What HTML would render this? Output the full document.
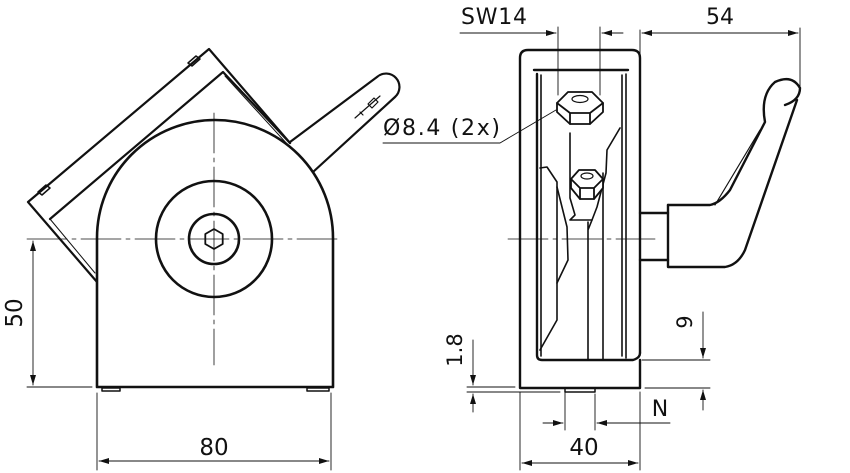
<!DOCTYPE html>
<html><head><style>
html,body{margin:0;padding:0;background:#fff;}
svg{display:block;}
text{font-family:"DejaVu Sans","Liberation Sans",sans-serif;fill:#111;}
</style></head><body>
<svg width="850" height="473" viewBox="0 0 850 473" xmlns="http://www.w3.org/2000/svg">
<defs>
<marker id="a" viewBox="0 0 10 6" refX="10" refY="3" markerWidth="11" markerHeight="6" orient="auto-start-reverse" markerUnits="userSpaceOnUse"><path d="M0,0 L10,3 L0,6 z" fill="#111"/></marker>
</defs>
<g fill="none" stroke="#111" stroke-linecap="round" stroke-linejoin="round">
<!-- LEFT VIEW -->
<g stroke-width="2.2">
<path d="M290,143 L209,49 L28,202 L97,282"/>
<path d="M50,219 L223,72 L290,143"/>
<path d="M38,192 l8,-7 l4,3 l-8,7 z M188,63 l8,-7 l4,3 l-8,7 z" stroke-width="1.5"/>
<path d="M290,142 L377,77 A12,12 0 0 1 395,97 L313,172"/>
</g>
<path d="M50,219 L95,273 M225,76 L288,145" stroke-width="1"/>
<path d="M355,118 l25,-22 M360,112 l3,3 M368,104 l6,-6 l4,4 l-6,6 z" stroke-width="1.2"/>
<path d="M97,387 L97,238 A118,118 0 0 1 333,238 L333,387 Z" fill="#fff" stroke-width="2.6"/>
<circle cx="214" cy="239" r="58" stroke-width="2.6"/>
<circle cx="214" cy="239" r="25" stroke-width="2.6"/>
<path d="M214,229 l8.7,5 v10 l-8.7,5 l-8.7,-5 v-10 z" stroke-width="1.8"/>
<path d="M102,388 h18 v3 h-18 z M307,388 h22 v3 h-22 z" stroke-width="1.5"/>
<path d="M27,239 H340 M214,113 V365" stroke-width="0.8" stroke-dasharray="40,5,4,5"/>
<g stroke-width="0.9">
<path d="M27,387 H92"/>
<path d="M33,241 V385" marker-start="url(#a)" marker-end="url(#a)"/>
<path d="M97,393 V470 M331,393 V470"/>
<path d="M99,461 H329" marker-start="url(#a)" marker-end="url(#a)"/>
</g>

<!-- RIGHT VIEW -->
<g stroke-width="2.4">
<path d="M640,353 V58 Q640,50 632,50 H528 Q520,50 520,58 V388 H640 V360"/>
<path d="M537,74 V355 Q537,360 542,360 H633 Q640,358 640,353"/>
<path d="M534,70 H628"/>
</g>
<g stroke-width="1.6">
<path d="M541,75 V356 M622,75 V356 M626,74 V358"/>
<path d="M540,168 L547,167 L557,182 L557,320 L540,350"/>
<path d="M557,187 L567,227 L568,260 L557,283"/>
<path d="M570,133 V198 L575,215 L570,220 H592 L597,207 L606,173 L607,150 L620,128"/>
<path d="M588,222 V360 M603,173 V360 M592,220 L588,230"/>
</g>
<!-- nuts -->
<g stroke-width="1.8" fill="#fff">
<path d="M557,103 L568,92 L592,92 L603,103 L603,112 L590,124 L570,124 L557,112 Z"/>
<path d="M557,103 L570,113 L590,113 L603,103 M570,113 V124 M590,113 V124" fill="none"/>
<ellipse cx="580" cy="99" rx="8" ry="3.5" fill="none" stroke-width="1.2"/>
<path d="M571,179 L579,170 L595,170 L603,179 L603,188 L594,199 L580,199 L571,188 Z"/>
<path d="M571,179 L580,188 L594,188 L603,179 M580,188 V199 M594,188 V199" fill="none"/>
<ellipse cx="587" cy="176" rx="6" ry="3" fill="none" stroke-width="1.2"/>
</g>
<!-- handle -->
<g stroke-width="2.4">
<path d="M640,213 H668 M640,260 H668"/>
<path d="M668,205 V267 H725 Q738,265 745,250 L797,100"/>
<path d="M668,205 H710 Q720,203 730,190 L765,122 Q760,95 775,82 Q792,74 800,88 Q800,100 785,105"/>
<path d="M715,205 L760,130" stroke-width="1.2"/>
<path d="M565,388 h30 v4 h-30 z" stroke-width="1.5"/>
</g>
<path d="M508,239 H655" stroke-width="0.8" stroke-dasharray="40,5,4,5"/>
<g stroke-width="0.9">
<path d="M558,27 V95 M600,27 V95"/>
<path d="M460,33 H556" marker-end="url(#a)"/>
<path d="M623,33 H602" marker-end="url(#a)"/>
<path d="M640,30 V55 M800,28 V88"/>
<path d="M642,33 H798" marker-start="url(#a)" marker-end="url(#a)"/>
<path d="M383,143 H500 L556,110"/>
<path d="M467,387 H515 M467,392 H560"/>
<path d="M473,340 V385" marker-end="url(#a)"/>
<path d="M473,412 V394" marker-end="url(#a)"/>
<path d="M642,360 H710 M645,388 H710"/>
<path d="M703,312 V358" marker-end="url(#a)"/>
<path d="M703,410 V390" marker-end="url(#a)"/>
<path d="M565,392 V430 M595,394 V430"/>
<path d="M543,423 H563" marker-end="url(#a)"/>
<path d="M670,423 H597" marker-end="url(#a)"/>
<path d="M520,392 V470 M640,392 V470"/>
<path d="M522,463 H638" marker-start="url(#a)" marker-end="url(#a)"/>
</g>
</g>
<text x="214" y="455" font-size="23" text-anchor="middle">80</text>
<text transform="translate(22,313) rotate(-90)" font-size="23" text-anchor="middle">50</text>
<text x="383" y="135" font-size="22" textLength="117">Ø8.4 (2x)</text>
<text x="461" y="24" font-size="22" textLength="66">SW14</text>
<text x="720" y="24" font-size="22" text-anchor="middle">54</text>
<text transform="translate(462,350) rotate(-90)" font-size="21" text-anchor="middle">1.8</text>
<text transform="translate(692,322) rotate(-90)" font-size="21" text-anchor="middle">9</text>
<text x="660" y="416" font-size="22" text-anchor="middle">N</text>
<text x="584" y="455" font-size="23" text-anchor="middle">40</text>
</svg>
</body></html>
